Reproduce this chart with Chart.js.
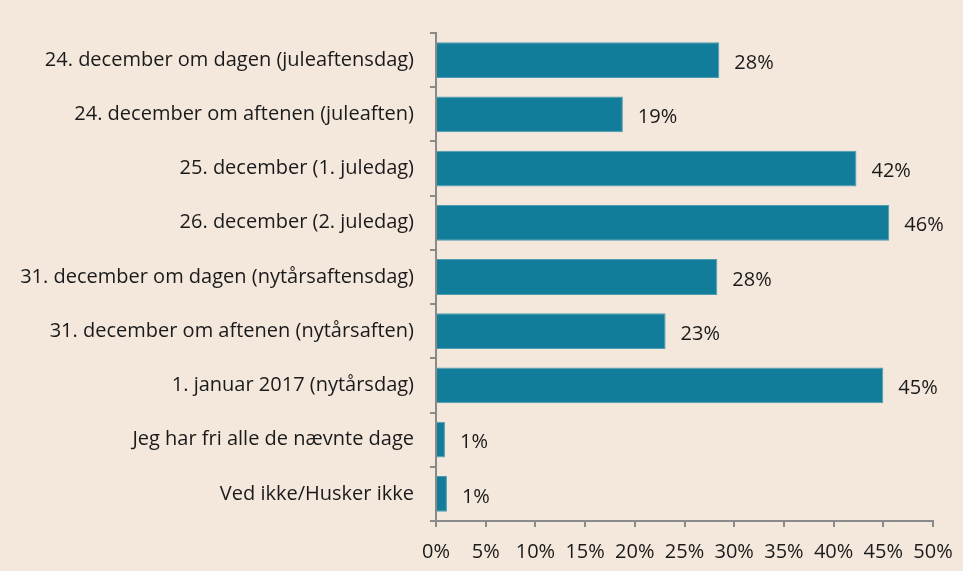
<!DOCTYPE html>
<html><head><meta charset="utf-8">
<script src="https://cdn.jsdelivr.net/npm/chart.js@4/dist/chart.umd.min.js"></script>
<style>html,body{margin:0;padding:0;background:#F4E8DC;}#wrap{width:963px;height:571px;}</style>
</head><body><div id="wrap"><canvas id="c" width="963" height="571"></canvas></div>
<script>
const categories = [
  "24. december om dagen (juleaftensdag)",
  "24. december om aftenen (juleaften)",
  "25. december (1. juledag)",
  "26. december (2. juledag)",
  "31. december om dagen (nytårsaftensdag)",
  "31. december om aftenen (nytårsaften)",
  "1. januar 2017 (nytårsdag)",
  "Jeg har fri alle de nævnte dage",
  "Ved ikke/Husker ikke"
];
const values = [28.5, 18.8, 42.3, 45.6, 28.3, 23.1, 45.0, 0.9, 1.1];
const valueLabels = ["28%", "19%", "42%", "46%", "28%", "23%", "45%", "1%", "1%"];
const xTicks = [0, 5, 10, 15, 20, 25, 30, 35, 40, 45, 50];

const FONT = "'Open Sans', sans-serif";
const FSIZE = 20;

const bgPlugin = {
  id: 'bg',
  beforeDraw(chart) {
    const ctx = chart.ctx;
    ctx.save();
    ctx.fillStyle = '#F4E8DC';
    ctx.fillRect(0, 0, chart.width, chart.height);
    ctx.restore();
  }
};
const labelPlugin = {
  id: 'vlabels',
  afterDatasetsDraw(chart) {
    const ctx = chart.ctx;
    const meta = chart.getDatasetMeta(0);
    ctx.save();
    ctx.font = FSIZE + "px " + FONT;
    ctx.fillStyle = '#1a1a1a';
    ctx.textAlign = 'left';
    ctx.textBaseline = 'middle';
    meta.data.forEach((bar, i) => {
      ctx.fillText(valueLabels[i], bar.x + 15, bar.y + 3);
    });
    ctx.restore();
  }
};

new Chart(document.getElementById('c'), {
  type: 'bar',
  data: {
    labels: categories,
    datasets: [{
      data: values,
      backgroundColor: '#117D9A',
      borderColor: '#4D9CB2',
      borderWidth: 1,
      categoryPercentage: 0.66,
      barPercentage: 1.0
    }]
  },
  options: {
    indexAxis: 'y',
    responsive: false,
    animation: false,
    layout: { padding: { top: 33, right: 30, left: 0, bottom: 0 } },
    plugins: { legend: { display: false }, tooltip: { enabled: false } },
    scales: {
      x: {
        min: 0, max: 50,
        afterBuildTicks(axis) { axis.ticks = xTicks.map(v => ({ value: v })); },
        afterFit(axis) { axis.height = 50; axis.paddingRight = 0; axis.paddingLeft = 0; },
        ticks: {
          callback: v => v + '%',
          font: { family: FONT, size: FSIZE },
          color: '#1a1a1a',
          padding: 13,
          maxRotation: 0,
          autoSkip: false
        },
        grid: { drawOnChartArea: false, drawTicks: true, tickLength: 6, color: '#8a8a8a', lineWidth: 2 },
        border: { color: '#8a8a8a', width: 2 }
      },
      y: {
        afterFit(axis) { axis.width = 436; },
        ticks: {
          font: { family: FONT, size: FSIZE },
          color: '#1a1a1a',
          padding: 16,
          autoSkip: false
        },
        grid: { offset: true, drawOnChartArea: false, drawTicks: true, tickLength: 6, color: '#8a8a8a', lineWidth: 2 },
        border: { color: '#8a8a8a', width: 2 }
      }
    }
  },
  plugins: [bgPlugin, labelPlugin]
});
</script>
</body></html>
